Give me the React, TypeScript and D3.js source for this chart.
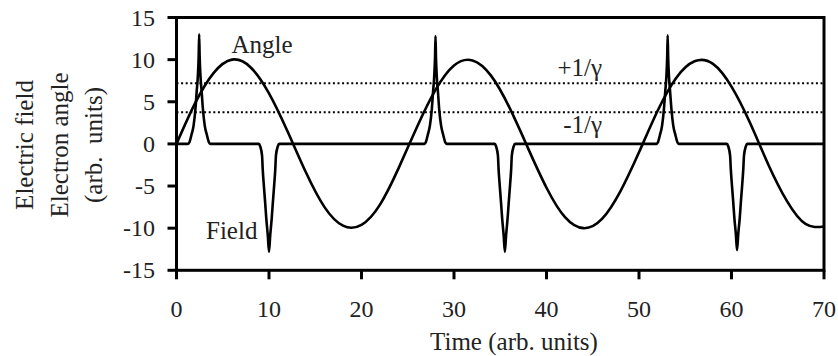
import React from 'react';
import * as d3 from 'd3';

// Axis ticks
const xTicks = [0, 10, 20, 30, 40, 50, 60, 70];
const yTicks = [-15, -10, -5, 0, 5, 10, 15];

// Electron angle
const angleTimes = [0, 2, 4, 6, 8, 10, 12, 14, 16, 18, 20, 22, 24, 26, 28, 30, 32, 34, 36, 38, 40, 42, 44, 46, 48, 50, 52, 54, 56, 58, 60, 62, 64, 66, 68, 70];
const angleValues = [0, 4.8, 8.4, 10.0, 9.1, 6.0, 1.5, -3.4, -7.5, -9.7, -9.6, -7.2, -2.9, 2.0, 6.4, 9.3, 9.9, 8.1, 4.3, -0.5, -5.2, -8.7, -10.0, -8.9, -5.6, -1.0, 3.9, 7.8, 9.8, 9.5, 6.8, 2.5, -2.5, -6.8, -9.5, -9.8];

// Electric field
const fieldTimes = [
  0,
  1.25, 1.4, 1.6, 1.85, 2.05, 2.18, 2.31, 2.4, 2.45, 2.5, 2.59, 2.72, 2.85, 3.05, 3.3, 3.5, 3.65,
  8.9, 9.05, 9.25, 9.32, 9.44, 9.58, 9.71, 9.87, 10.0, 10.13, 10.29, 10.42, 10.56, 10.68, 10.75, 10.95, 11.1,
  26.8, 26.95, 27.15, 27.4, 27.6, 27.73, 27.86, 27.95, 28.0, 28.05, 28.14, 28.27, 28.4, 28.6, 28.85, 29.05, 29.2,
  34.4, 34.55, 34.75, 34.82, 34.94, 35.08, 35.21, 35.37, 35.5, 35.63, 35.79, 35.92, 36.06, 36.18, 36.25, 36.45, 36.6,
  51.9, 52.05, 52.25, 52.5, 52.7, 52.83, 52.96, 53.05, 53.1, 53.15, 53.24, 53.37, 53.5, 53.7, 53.95, 54.15, 54.3,
  59.5, 59.65, 59.85, 59.92, 60.04, 60.18, 60.31, 60.47, 60.6, 60.73, 60.89, 61.02, 61.16, 61.28, 61.35, 61.55, 61.7,
  70,
];
const fieldValues = [
  0,
  0, 0.2, 1.0, 2.2, 4.2, 6.2, 8.1, 10.5, 13.0, 10.5, 8.1, 6.2, 4.2, 2.2, 1.0, 0.2, 0,
  0, -0.3, -1.4, -3.0, -4.9, -6.9, -8.9, -10.85, -12.8, -10.85, -8.9, -6.9, -4.9, -3.0, -1.4, -0.3, 0,
  0, 0.2, 1.0, 2.2, 4.1, 6.1, 8.0, 10.3, 12.8, 10.3, 8.0, 6.1, 4.1, 2.2, 1.0, 0.2, 0,
  0, -0.3, -1.4, -3.0, -4.9, -6.9, -8.9, -10.85, -12.8, -10.85, -8.9, -6.9, -4.9, -3.0, -1.4, -0.3, 0,
  0, 0.2, 1.0, 2.2, 4.2, 6.1, 8.0, 10.4, 12.9, 10.4, 8.0, 6.1, 4.2, 2.2, 1.0, 0.2, 0,
  0, -0.3, -1.4, -2.9, -4.8, -6.8, -8.8, -10.7, -12.6, -10.7, -8.8, -6.8, -4.8, -2.9, -1.4, -0.3, 0,
  0,
];

// Dotted ±1/γ levels
const gammaLevels = [7.2, 3.75];
const gammaLabels = ['+1/γ', '-1/γ'];

const yTitleLines = ['Electric field', 'Electron angle', '(arb.  units)'];

const FONT = 'Liberation Serif, DejaVu Serif, serif';

export default function App() {
  const W = 838;
  const H = 356;
  const x = d3.scaleLinear().domain([0, 70]).range([176.5, 824]);
  const y = d3.scaleLinear().domain([-15, 15]).range([270.3, 17.5]);

  const angleLine = d3
    .line<number>()
    .x((_, i) => x(angleTimes[i]))
    .y((d) => y(d))
    .curve(d3.curveNatural);

  const fieldLine = d3
    .line<number>()
    .x((_, i) => x(fieldTimes[i]))
    .y((d) => y(d))
    .curve(d3.curveMonotoneX);

  const x0 = x(0);
  const x1 = x(70);
  const yTop = y(15);
  const yBot = y(-15);
  const ts = (size: number) => ({ fontFamily: FONT, fontSize: size + 'px', fill: '#222' });

  return (
    <svg
      width={W}
      height={H}
      style={{ position: 'absolute', left: 0, top: 0, background: '#fff', fontFamily: FONT }}
    >
      <rect x={0} y={0} width={W} height={H} fill="#fff" />

      {gammaLevels.map((g, i) => (
        <line
          key={'g' + i}
          x1={x0}
          x2={x1}
          y1={y(g)}
          y2={y(g)}
          stroke="#000"
          strokeWidth={2}
          strokeDasharray="2 2.6"
        />
      ))}

      <path d={fieldLine(fieldValues) || ''} fill="none" stroke="#000" strokeWidth={2.6} strokeLinejoin="round" />
      <path d={angleLine(angleValues) || ''} fill="none" stroke="#000" strokeWidth={2.6} />

      <rect x={x0} y={yTop} width={x1 - x0} height={yBot - yTop} fill="none" stroke="#000" strokeWidth={3} />

      {yTicks.map((t) => (
        <g key={'yt' + t}>
          <line x1={x0 - 9} x2={x0} y1={y(t)} y2={y(t)} stroke="#000" strokeWidth={3} />
          <text x={155} y={y(t) + 8} textAnchor="end" style={ts(24)}>
            {String(t)}
          </text>
        </g>
      ))}

      {xTicks.map((t) => (
        <g key={'xt' + t}>
          <line x1={x(t)} x2={x(t)} y1={yBot} y2={yBot + 9} stroke="#000" strokeWidth={3} />
          <text x={x(t)} y={316.5} textAnchor="middle" style={ts(24)}>
            {String(t)}
          </text>
        </g>
      ))}

      <text x={514} y={350} textAnchor="middle" style={ts(25)}>
        Time (arb. units)
      </text>
      {yTitleLines.map((s, i) => (
        <text
          key={'yl' + i}
          transform={`translate(${33 + i * 34.5},145) rotate(-90)`}
          textAnchor="middle"
          style={{ ...ts(25), whiteSpace: 'pre' }}
        >
          {s}
        </text>
      ))}

      <text x={231.5} y={53.3} style={ts(25)}>Angle</text>
      <text x={206} y={239.3} style={ts(25)}>Field</text>
      <text x={602} y={76} textAnchor="end" style={ts(25)}>{gammaLabels[0]}</text>
      <text x={602} y={133.3} textAnchor="end" style={ts(25)}>{gammaLabels[1]}</text>
    </svg>
  );
}
